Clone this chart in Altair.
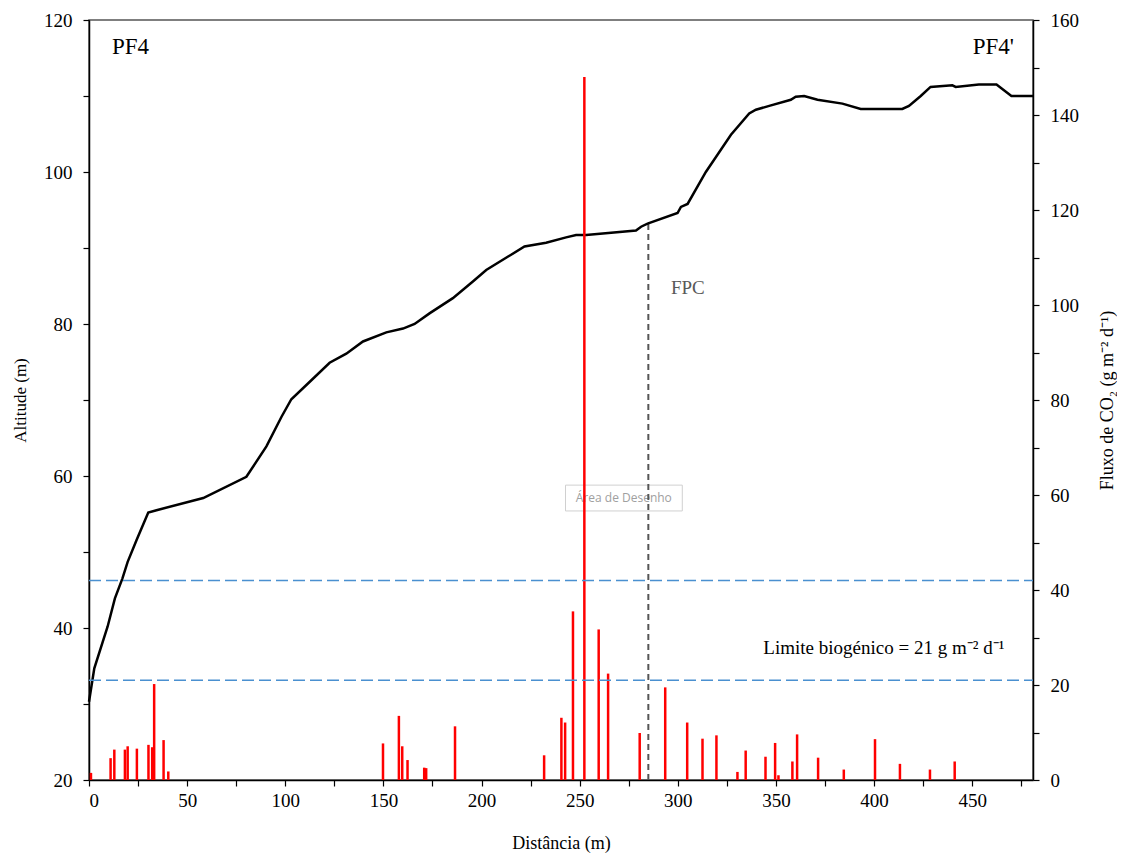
import altair as alt
import pandas as pd

# ---------------- data ----------------
profile_dist = [0, 2.7, 9.5, 13.2, 17, 19.7, 24.3, 30.2, 34.4, 58.2, 80.2, 90.4, 98.1,
                103.1, 112.5, 122.6, 131.1, 139.6, 151.5, 160, 165.9, 173.5, 185.4,
                195.6, 202.4, 221.9, 232.9, 243.1, 248.2, 253.3, 278.7, 281.3, 284.6,
                299.9, 301.6, 305, 314.3, 327.1, 336.4, 339.8, 346.6, 357.6, 360.1,
                364.4, 371.2, 383.9, 393.2, 414.4, 417.8, 423.8, 428.8, 439.9, 441.6,
                453.4, 462.4, 470, 481]
profile_alt = [30.3, 34.7, 40.2, 43.9, 46.5, 48.7, 51.6, 55.2, 55.5, 57.1, 59.9, 63.9, 67.8,
               70.1, 72.4, 74.9, 76.1, 77.7, 78.9, 79.4, 80.0, 81.4, 83.4,
               85.6, 87.1, 90.2, 90.7, 91.4, 91.7, 91.7, 92.3, 92.8, 93.2,
               94.6, 95.4, 95.8, 100.0, 104.9, 107.7, 108.2, 108.7, 109.5, 109.9,
               110.0, 109.5, 109.0, 108.3, 108.3, 108.7, 110.0, 111.2, 111.4, 111.2,
               111.5, 111.5, 110.0, 110.0]

flux_dist = [1, 11, 12.9, 18.3, 19.7, 24.4, 30.3, 32.2, 33.2, 38, 40.4,
             149.8, 157.9, 159.6, 162.3, 170.8, 171.8, 186.5,
             231.9, 240.7, 242.6, 246.6, 252.4, 259.7, 264.5, 280.6,
             293.6, 304.8, 312.6, 319.7, 330.4, 334.6, 344.7, 349.6, 351.3, 358.4,
             360.8, 371.5, 384.6, 400.5, 413.2, 428.5, 441.1]
flux_vals = [1.5, 4.6, 6.4, 6.4, 7.1, 6.6, 7.4, 6.9, 20.2, 8.4, 1.8,
             7.7, 13.5, 7.1, 4.2, 2.6, 2.5, 11.3,
             5.2, 13.1, 12.1, 35.5, 148, 31.7, 22.4, 9.9,
             19.5, 12.1, 8.7, 9.4, 1.7, 6.2, 4.9, 7.8, 1.0, 3.9,
             9.6, 4.7, 2.2, 8.6, 3.4, 2.2, 3.9]

thresholds = [21, 42]
fpc_dist = [285]
fpc_top = [93.2]
fpc_bottom = [20]

x_ticks = list(range(0, 476, 25))
left_ticks = list(range(20, 121, 10))
right_ticks = list(range(0, 161, 10))

# annotation texts (data units)
big_labels = pd.DataFrame({"x": [11.7, 471.3], "y": [116.4, 116.4], "t": ["PF4", "PF4'"],
                           "a": ["left", "right"]})
fpc_label = pd.DataFrame({"x": [296.5], "y": [84.7], "t": ["FPC"]})
limit_label = pd.DataFrame({"x": [405], "y": [27.8], "t": ["Limite biogénico = 21 g m⁻² d⁻¹"]})
tip_box = pd.DataFrame({"x": [242.8], "x2": [302.3], "y": [55.4], "y2": [58.8]})
tip_text = pd.DataFrame({"x": [272.5], "y": [57.1], "t": ["Área de Desenho"]})

FONT = "Liberation Serif"
R_TITLE = "Fluxo de CO₂ (g m⁻² d⁻¹)"

prof = pd.DataFrame({"d": profile_dist, "a": profile_alt})
flux = pd.DataFrame({"d": flux_dist, "f": flux_vals, "z": [0] * len(flux_dist)})
thr = pd.DataFrame({"v": thresholds, "x0": [0, 0], "x1": [481, 481]})
fpc = pd.DataFrame({"d": fpc_dist, "top": fpc_top, "bot": fpc_bottom})

xscale = alt.Scale(domain=[0, 481], nice=False, zero=False)
lscale = alt.Scale(domain=[20, 120], nice=False, zero=False)
rscale = alt.Scale(domain=[0, 160], nice=False)

x_axis = alt.Axis(values=x_ticks, labelExpr="datum.value % 50 == 0 ? datum.label : ''",
                  title="Distância (m)", tickSize=6, labelPadding=5, titlePadding=24,
                  titleFontSize=18, grid=False)
l_axis = alt.Axis(values=left_ticks, labelExpr="datum.value % 20 == 0 ? datum.label : ''",
                  title="Altitude (m)", tickSize=6, labelPadding=11, titlePadding=14,
                  grid=False, orient="left")
r_axis = alt.Axis(values=right_ticks, labelExpr="datum.value % 20 == 0 ? datum.label : ''",
                  title=R_TITLE, tickSize=6, labelPadding=11, titleFontSize=18,
                  titlePadding=38, grid=False, orient="right", titleAngle=270)


def X(field):
    return alt.X(field, scale=xscale, axis=x_axis, title="Distância (m)")


def YL(field):
    return alt.Y(field, scale=lscale, axis=l_axis, title="Altitude (m)")


def YR(field):
    return alt.Y(field, scale=rscale, axis=r_axis, title=R_TITLE)


# ------------- left-scale layers -------------
tip_rect = alt.Chart(tip_box).mark_rect(fill="white", fillOpacity=0.85, stroke="#d0d0d0",
                                        strokeWidth=1).encode(
    x=X("x:Q"), x2="x2:Q", y=YL("y:Q"), y2="y2:Q",
)
tip_lbl = alt.Chart(tip_text).mark_text(font="Open Sans", fontSize=12, color="#a0a0a0").encode(
    x=X("x:Q"), y=YL("y:Q"), text="t:N",
)
line = alt.Chart(prof).mark_line(color="black", strokeWidth=2.5).encode(
    x=X("d:Q"), y=YL("a:Q"),
)
fpc_rule = alt.Chart(fpc).mark_rule(color="#555555", strokeWidth=2, strokeDash=[6, 4]).encode(
    x=X("d:Q"), y=YL("bot:Q"), y2="top:Q",
)
txt_big_l = alt.Chart(big_labels.iloc[[0]]).mark_text(
    font=FONT, fontSize=23, align="left", baseline="middle", color="black").encode(
    x=X("x:Q"), y=YL("y:Q"), text="t:N",
)
txt_big_r = alt.Chart(big_labels.iloc[[1]]).mark_text(
    font=FONT, fontSize=23, align="right", baseline="middle", color="black").encode(
    x=X("x:Q"), y=YL("y:Q"), text="t:N",
)
txt_fpc = alt.Chart(fpc_label).mark_text(
    font=FONT, fontSize=19, align="left", baseline="middle", color="#595959").encode(
    x=X("x:Q"), y=YL("y:Q"), text="t:N",
)
left = alt.layer(tip_rect, tip_lbl, fpc_rule, line, txt_big_l, txt_big_r, txt_fpc)

# ------------- right-scale layers -------------
bars = alt.Chart(flux).mark_rule(color="#FF0000", strokeWidth=2.5).encode(
    x=X("d:Q"), y=YR("z:Q"), y2="f:Q",
)
thr_rules = alt.Chart(thr).mark_rule(color="#4A90D0", strokeWidth=1.5, strokeDash=[12, 5]).encode(
    x=X("x0:Q"), x2="x1:Q", y=YR("v:Q"),
)
lim_txt = alt.Chart(limit_label).mark_text(font=FONT, fontSize=19, color="black").encode(
    x=X("x:Q"), y=YR("y:Q"), text="t:N",
)
right = alt.layer(bars, thr_rules, lim_txt)

chart = alt.layer(left, right).resolve_scale(y="independent").properties(
    width=944, height=760,
    autosize=alt.AutoSizeParams(type="none"),
    padding={"left": 81, "top": 12, "right": 84, "bottom": 74},
).configure_axis(
    labelFont=FONT, labelFontSize=19, labelColor="black",
    titleFont=FONT, titleFontSize=17, titleFontWeight="normal", titleColor="black",
    domainColor="black", domainWidth=1.5, tickColor="black", tickWidth=1.2,
).configure_view(stroke="#555555", strokeWidth=1.5)

chart.save("out.html", embed_options={"renderer": "svg", "actions": False})
